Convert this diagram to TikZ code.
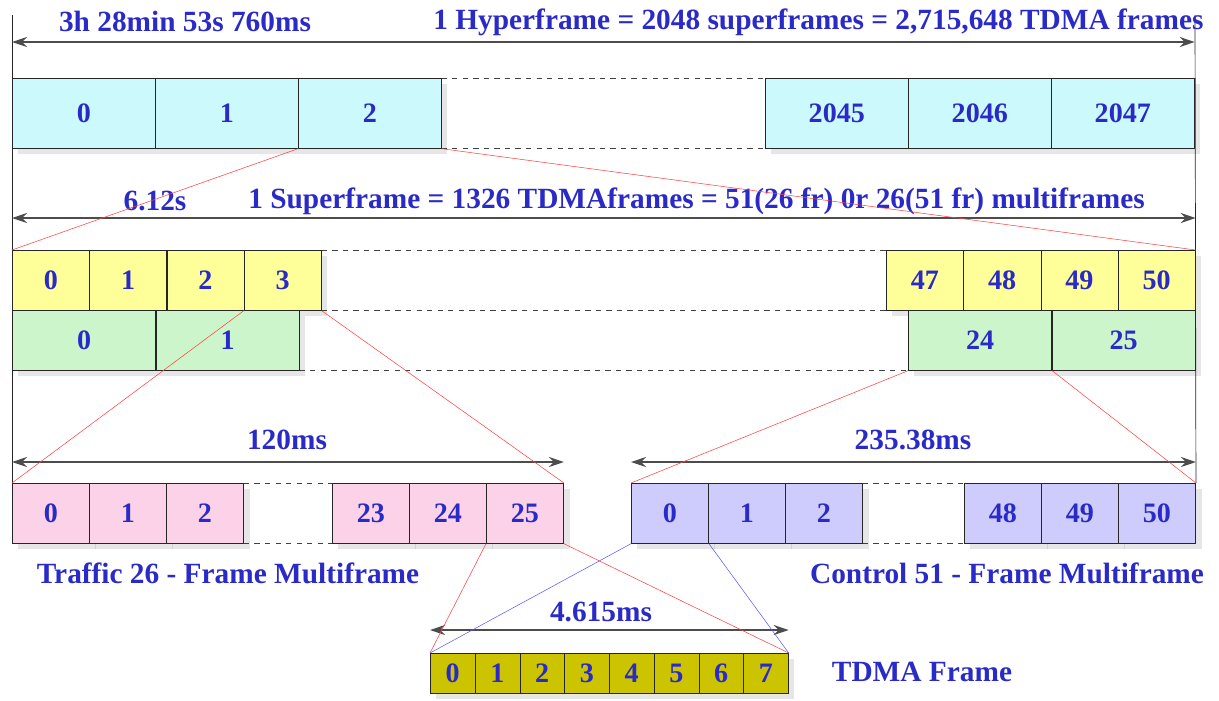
\documentclass[tikz,border=0pt]{standalone}
\usepackage{fontspec}
\setmainfont{Liberation Serif}
\usetikzlibrary{arrows.meta,shadows}

% Colours of the frame levels
\definecolor{gsmblue}{RGB}{42, 42, 200}
\definecolor{hypercol}{RGB}{204, 250, 252}
\definecolor{supcol}{RGB}{255, 255, 153}
\definecolor{supcolb}{RGB}{204, 245, 204}
\definecolor{trafcol}{RGB}{252, 210, 232}
\definecolor{ctrlcol}{RGB}{206, 204, 252}
\definecolor{tdmacol}{RGB}{204, 196, 0}

\tikzset{
    cell/.style={draw=black!85, thin, inner sep=0pt, anchor=north west,
        font=\bfseries\fontsize{16}{16}\selectfont, text=gsmblue,
        drop shadow={shadow xshift=1.2mm, shadow yshift=-1.2mm, opacity=0.2}},
    lbl/.style={font=\bfseries\fontsize{16.7}{17}\selectfont, text=gsmblue, inner sep=0pt},
    span/.style={{Stealth[length=3mm, width=2mm]}-{Stealth[length=3mm, width=2mm]},
        line width=1.1pt, black!70},
    gap/.style={dashed, black!75, thin},
    zoom/.style={red!75, line width=0.3pt},
    zoomb/.style={blue!65, line width=0.3pt},
}

\begin{document}
\begin{tikzpicture}[x=0.02cm, y=-0.02cm]

\useasboundingbox (0,0) rectangle (1219,700);

% Grid dimensions
\def\wide{2.86cm}
\def\narrow{1.545cm}
\def\slot{0.895cm}

% Hyperframe: 2048 superframes
\foreach \n in {0,1,2}
    \node[cell, fill=hypercol, minimum width=\wide, minimum height=1.4cm] (h\n) at ({12+143*\n}, 78) {\n};
\foreach \n in {2045,2046,2047}
    \node[cell, fill=hypercol, minimum width=\wide, minimum height=1.4cm] (h\n) at ({765+143*(\n-2045)}, 78) {\n};
\draw[gap] (h2.north east) -- (h2045.north west);
\draw[gap] (h2.south east) -- (h2045.south west);

% Superframe: 51 x 26-frame or 26 x 51-frame multiframes
\foreach \n in {0,...,3}
    \node[cell, fill=supcol, minimum width=\narrow, minimum height=1.2cm] (s\n) at ({12+77.25*\n}, 250) {\n};
\foreach \n in {47,...,50}
    \node[cell, fill=supcol, minimum width=\narrow, minimum height=1.2cm] (s\n) at ({886+77.25*(\n-47)}, 250) {\n};
\foreach \n in {0,1}
    \node[cell, fill=supcolb, minimum width=2.87cm, minimum height=1.2cm] (m\n) at ({12+143.5*\n}, 310) {\n};
\foreach \n in {24,25}
    \node[cell, fill=supcolb, minimum width=2.87cm, minimum height=1.2cm] (m\n) at ({908+143.5*(\n-24)}, 310) {\n};
\draw[gap] (s3.north east) -- (s47.north west);
\draw[gap] (s3.south east) -- (s47.south west);
\draw[gap] (m1.south east) -- (m24.south west);

% Traffic multiframe
\foreach \n in {0,1,2}
    \node[cell, fill=trafcol, minimum width=\narrow, minimum height=1.2cm] (t\n) at ({12+77*\n}, 483) {\n};
\foreach \n in {23,24,25}
    \node[cell, fill=trafcol, minimum width=\narrow, minimum height=1.2cm] (t\n) at ({332+77*(\n-23)}, 483) {\n};
\draw[gap] (t2.north east) -- (t23.north west);
\draw[gap] (t2.south east) -- (t23.south west);

% Control multiframe
\foreach \n in {0,1,2}
    \node[cell, fill=ctrlcol, minimum width=\narrow, minimum height=1.2cm] (c\n) at ({631+77*\n}, 483) {\n};
\foreach \n in {48,49,50}
    \node[cell, fill=ctrlcol, minimum width=\narrow, minimum height=1.2cm] (c\n) at ({964+77*(\n-48)}, 483) {\n};
\draw[gap] (c2.north east) -- (c48.north west);
\draw[gap] (c2.south east) -- (c48.south west);

% TDMA frame: 8 timeslots
\foreach \n in {0,...,7}
    \node[cell, fill=tdmacol, minimum width=\slot, minimum height=0.8cm] (d\n) at ({430+44.75*\n}, 653) {\n};

% Outer vertical lines
\coordinate (ltop) at (12, 15);
\coordinate (rtop) at (1195, 15);
\draw[black!85] (ltop) -- (t0.north west);
\draw[black!85] (rtop) -- (c50.north east);

% Duration arrows
\draw[span] ([yshift=0.72cm]h0.north west) -- ([yshift=0.72cm]h2047.north east);
\draw[span] ([yshift=0.64cm]s0.north west) -- ([yshift=0.64cm]s50.north east);
\draw[span] ([yshift=0.42cm]t0.north west) -- ([yshift=0.42cm]t25.north east);
\draw[span] ([yshift=0.42cm]c0.north west) -- ([yshift=0.42cm]c50.north east);
\draw[span] ([yshift=0.46cm]d0.north west) -- ([yshift=0.46cm]d7.north east);

% Labels
\node[lbl] (hdur) at (185, 21) {3h 28min 53s 760ms};
\node[lbl, anchor=west] (hname) at (433, 22) {1 Hyperframe = 2048 superframes = 2,715,648 TDMA frames};
\node[lbl] (sdur) at (155, 201) {6.12s};
\node[lbl, anchor=west] (sname) at (248, 201) {1 Superframe = 1326 TDMAframes = 51(26 fr) 0r 26(51 fr) multiframes};
\node[lbl] (tdur) at (287, 440) {120ms};
\node[lbl] (cdur) at (913, 440) {235.38ms};
\node[lbl] (tname) at (228, 573) {Traffic 26 - Frame Multiframe};
\node[lbl] (cname) at (1007, 573) {Control 51 - Frame Multiframe};
\node[lbl] (ddur) at (601, 612) {4.615ms};
\node[lbl] (dname) at (922, 672) {TDMA Frame};

% Zoom lines between levels
\draw[zoom] (h2.south west) -- (s0.north west);
\draw[zoom] (h2.south east) -- (s50.north east);
\draw[zoom] (s3.south west) -- (t0.north west);
\draw[zoom] (s3.south east) -- (t25.north east);
\draw[zoom] (m24.south west) -- (c0.north west);
\draw[zoom] (m24.south east) -- (c50.north east);
\draw[zoom] (t25.south west) -- (d0.north west);
\draw[zoom] (t25.south east) -- (d7.north east);
\draw[zoomb] (c0.south west) -- (d0.north west);
\draw[zoomb] (c0.south east) -- (d7.north east);

\end{tikzpicture}
\end{document}
